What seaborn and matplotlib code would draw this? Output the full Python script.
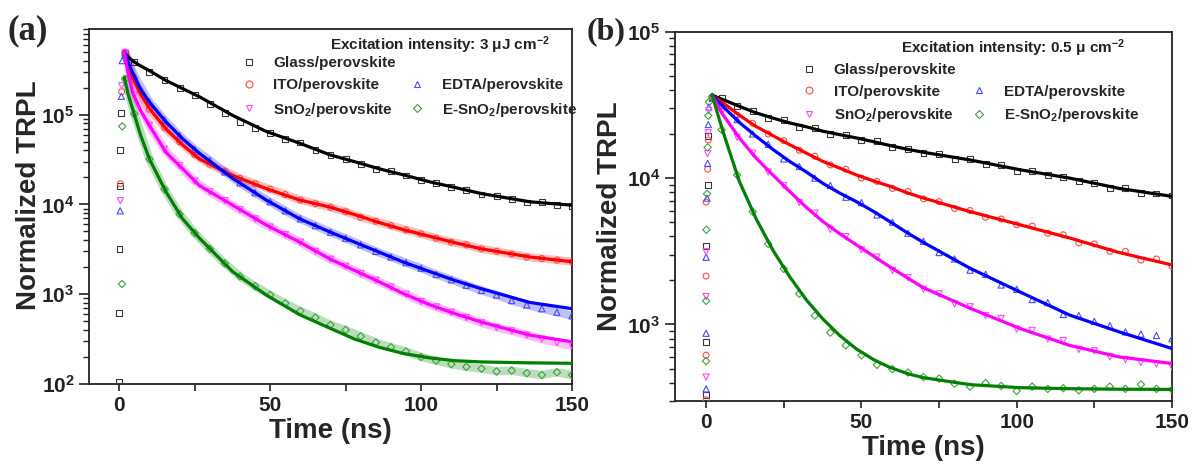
import numpy as np
import pandas as pd
import matplotlib
matplotlib.use("Agg")
import matplotlib.pyplot as plt
import seaborn as sns
from matplotlib.lines import Line2D
from matplotlib.ticker import LogLocator, FuncFormatter, MultipleLocator, NullFormatter

# ---------------- data ----------------
series = ["Glass/perovskite", "ITO/perovskite", "EDTA/perovskite",
          "SnO$_\\mathbf{2}$/perovskite", "E-SnO$_\\mathbf{2}$/perovskite"]

# panel (a): fitted curves
t_fit_a = [1.7, 3, 4.4, 7, 10, 15.5, 21, 26.6, 37.6, 48.7, 59.8, 70, 78, 86, 94, 103, 111, 120, 136, 150]
glass_fit_a = [4.79e5, 4.37e5, 3.98e5, 3.5e5, 3.09e5, 2.40e5, 1.95e5, 1.58e5, 9.8e4, 6.5e4, 4.8e4, 3.55e4, 2.99e4, 2.5e4, 2.14e4, 1.78e4, 1.55e4, 1.32e4, 1.07e4, 9.8e3]
ito_fit_a = [5.0e5, 3.47e5, 2.63e5, 1.7e5, 1.17e5, 6.9e4, 4.6e4, 3.2e4, 2.1e4, 1.5e4, 1.12e4, 9.3e3, 7.7e3, 6.3e3, 5.25e3, 4.4e3, 3.76e3, 3.2e3, 2.6e3, 2.3e3]
edta_fit_a = [5.0e5, 3.8e5, 2.95e5, 1.95e5, 1.38e5, 8.3e4, 5.4e4, 3.7e4, 1.95e4, 1.12e4, 6.9e3, 4.9e3, 3.8e3, 2.95e3, 2.29e3, 1.78e3, 1.43e3, 1.15e3, 810, 690]
sno2_fit_a = [5.0e5, 2.82e5, 1.78e5, 1.12e5, 7.6e4, 3.8e4, 2.5e4, 1.62e4, 9.8e3, 5.9e3, 3.8e3, 2.45e3, 1.84e3, 1.38e3, 1.02e3, 760, 610, 490, 350, 295]
esno2_fit_a = [2.6e5, 1.66e5, 1.17e5, 6.0e4, 3.2e4, 1.38e4, 6.9e3, 4.2e3, 1.78e3, 980, 590, 415, 316, 257, 219, 195, 182, 176, 172, 170]

# measured decay points (both panels share this time grid)
t_data = [2, 5, 10, 15, 20, 25, 30, 35, 40, 45, 50, 55, 60, 65, 70, 75, 80, 85, 90,
          95, 100, 105, 110, 115, 120, 125, 130, 135, 140, 145, 150]
glass_data_a = [4.7e5, 3.9e5, 3.0e5, 2.45e5, 2.0e5, 1.66e5, 1.32e5, 1.05e5, 8.3e4, 7.1e4, 6.3e4, 5.4e4, 4.9e4, 4.0e4, 3.55e4, 3.2e4, 2.8e4, 2.5e4, 2.35e4, 2.1e4, 1.86e4, 1.74e4, 1.55e4, 1.45e4, 1.29e4, 1.23e4, 1.15e4, 1.05e4, 1.07e4, 9.8e3, 9.6e3]
ito_data_a = [4.9e5, 2.4e5, 1.15e5, 7.2e4, 5.0e4, 3.6e4, 2.8e4, 2.35e4, 1.95e4, 1.7e4, 1.48e4, 1.29e4, 1.12e4, 1.02e4, 9.3e3, 8.3e3, 7.2e3, 6.5e3, 5.8e3, 5.2e3, 4.7e3, 4.2e3, 3.8e3, 3.55e3, 3.2e3, 3.0e3, 2.8e3, 2.6e3, 2.5e3, 2.4e3, 2.3e3]
edta_data_a = [4.9e5, 2.7e5, 1.38e5, 8.7e4, 5.8e4, 4.1e4, 3.1e4, 2.3e4, 1.74e4, 1.35e4, 1.07e4, 8.5e3, 6.9e3, 5.8e3, 4.9e3, 4.2e3, 3.55e3, 3.0e3, 2.6e3, 2.25e3, 1.95e3, 1.66e3, 1.45e3, 1.26e3, 1.1e3, 980, 850, 760, 690, 630, 575]
sno2_data_a = [4.9e5, 1.66e5, 7.6e4, 4.1e4, 2.7e4, 1.82e4, 1.38e4, 1.1e4, 8.7e3, 6.9e3, 5.6e3, 4.6e3, 3.8e3, 3.0e3, 2.45e3, 2.05e3, 1.7e3, 1.43e3, 1.2e3, 1.0e3, 830, 720, 630, 550, 480, 425, 390, 350, 315, 290, 265]
esno2_data_a = [2.5e5, 1.02e5, 3.2e4, 1.48e4, 7.8e3, 4.8e3, 3.2e3, 2.2e3, 1.58e3, 1.23e3, 980, 790, 650, 550, 455, 400, 340, 290, 257, 230, 200, 182, 166, 155, 148, 138, 141, 132, 126, 135, 126]

# rising-edge points, panel (a)
rise_t_glass_a = [0.0, 0.0, 0.1, 0.2, 0.4, 0.6]
rise_glass_a = [105, 620, 3.2e3, 1.6e4, 4.0e4, 1.05e5]
rise_t_ito_a = [0.4, 0.8]
rise_ito_a = [1.7e4, 1.8e5]
rise_t_edta_a = [0.3, 0.7, 1.0]
rise_edta_a = [8.5e3, 1.6e5, 4.0e5]
rise_t_sno2_a = [0.4, 0.8]
rise_sno2_a = [1.1e4, 2.1e5]
rise_t_esno2_a = [0.9, 1.0]
rise_esno2_a = [1.3e3, 7.4e4]

# panel (b): fitted curves
t_fit_b = [1.9, 5.4, 10.7, 16.1, 21.5, 26.9, 32.3, 37.6, 43, 48.4, 54, 59.1, 65, 70, 85, 101, 117, 133, 150]
glass_fit_b = [3.68e4, 3.44e4, 3.09e4, 2.79e4, 2.57e4, 2.38e4, 2.24e4, 2.09e4, 1.98e4, 1.88e4, 1.77e4, 1.67e4, 1.57e4, 1.5e4, 1.33e4, 1.14e4, 1.0e4, 8.5e3, 7.5e3]
ito_fit_b = [3.68e4, 3.27e4, 2.69e4, 2.25e4, 1.95e4, 1.69e4, 1.48e4, 1.3e4, 1.17e4, 1.05e4, 9.55e3, 8.8e3, 7.9e3, 7.3e3, 5.9e3, 4.8e3, 3.9e3, 3.1e3, 2.55e3]
edta_fit_b = [3.68e4, 3.09e4, 2.4e4, 1.93e4, 1.57e4, 1.3e4, 1.1e4, 9.2e3, 7.9e3, 6.9e3, 5.9e3, 5.05e3, 4.2e3, 3.63e3, 2.42e3, 1.67e3, 1.16e3, 890, 685]
sno2_fit_b = [3.68e4, 2.72e4, 1.88e4, 1.37e4, 1.05e4, 8.1e3, 6.3e3, 5.05e3, 4.17e3, 3.5e3, 2.92e3, 2.48e3, 2.07e3, 1.78e3, 1.29e3, 940, 720, 600, 541]
esno2_fit_b = [3.7e4, 2.09e4, 9.5e3, 5.28e3, 3.22e3, 2.12e3, 1.47e3, 1.09e3, 841, 680, 574, 510, 460, 433, 388, 370, 364, 361, 360]

glass_data_b = [3.5e4, 3.51e4, 3.09e4, 2.88e4, 2.57e4, 2.48e4, 2.24e4, 2.19e4, 2.0e4, 1.97e4, 1.82e4, 1.78e4, 1.62e4, 1.58e4, 1.48e4, 1.46e4, 1.35e4, 1.35e4, 1.24e4, 1.22e4, 1.12e4, 1.12e4, 1.05e4, 1.02e4, 9.5e3, 9.3e3, 8.6e3, 8.5e3, 7.9e3, 7.85e3, 7.6e3]
ito_data_b = [3.5e4, 3.31e4, 2.69e4, 2.37e4, 2.0e4, 1.8e4, 1.55e4, 1.41e4, 1.23e4, 1.15e4, 1.0e4, 9.5e3, 8.5e3, 8.1e3, 7.2e3, 6.9e3, 6.2e3, 6.0e3, 5.4e3, 5.25e3, 4.8e3, 4.7e3, 4.2e3, 4.1e3, 3.6e3, 3.55e3, 3.16e3, 3.16e3, 2.75e3, 2.8e3, 2.5e3]
edta_data_b = [3.55e4, 3.16e4, 2.51e4, 2.0e4, 1.7e4, 1.35e4, 1.2e4, 1.0e4, 8.9e3, 7.4e3, 6.8e3, 5.6e3, 5.0e3, 4.2e3, 3.7e3, 3.1e3, 2.8e3, 2.35e3, 2.2e3, 1.86e3, 1.74e3, 1.48e3, 1.41e3, 1.17e3, 1.15e3, 1.05e3, 980, 890, 860, 840, 800]
sno2_data_b = [3.5e4, 2.82e4, 1.9e4, 1.48e4, 1.1e4, 8.9e3, 6.8e3, 5.75e3, 4.47e3, 3.98e3, 3.24e3, 2.88e3, 2.34e3, 2.09e3, 1.74e3, 1.62e3, 1.38e3, 1.32e3, 1.15e3, 1.1e3, 930, 910, 795, 775, 675, 660, 600, 575, 550, 537, 513]
esno2_data_b = [3.6e4, 2.14e4, 1.05e4, 5.9e3, 3.55e3, 2.4e3, 1.62e3, 1.15e3, 880, 720, 615, 530, 495, 470, 437, 427, 394, 376, 398, 380, 351, 376, 363, 367, 355, 363, 376, 363, 389, 363, 359]

rise_t_glass_b = [0, 0, 0, 0.5, 0.7]
rise_glass_b = [331, 757, 3.44e3, 9.0e3, 1.93e4]
rise_t_ito_b = [0, 0, 0, 0, 0.5, 0.7]
rise_ito_b = [306, 617, 2.14e3, 6.85e3, 1.15e4, 1.82e4]
rise_t_edta_b = [0, 0, 0, 0.3, 0.5, 0.7, 0.9]
rise_edta_b = [363, 871, 2.88e3, 7.3e3, 1.26e4, 2.32e4, 3.06e4]
rise_t_sno2_b = [0, 0, 0, 0.5, 0.7, 0.9]
rise_sno2_b = [437, 1.55e3, 3.14e3, 1.47e4, 2.04e4, 2.9e4]
rise_t_esno2_b = [0, 0, 0.1, 0.3, 0.5, 0.7, 0.9]
rise_esno2_b = [562, 1.45e3, 4.43e3, 7.8e3, 1.62e4, 2.67e4, 3.3e4]

# ---------------- styling ----------------
sns.set_style("ticks")
plt.rcParams["font.family"] = ["Liberation Sans", "DejaVu Sans"]
plt.rcParams["font.weight"] = "bold"
plt.rcParams["axes.labelweight"] = "bold"
plt.rcParams["mathtext.fontset"] = "custom"
plt.rcParams["mathtext.rm"] = "Liberation Sans:bold"
plt.rcParams["mathtext.bf"] = "Liberation Sans:bold"
plt.rcParams["mathtext.it"] = "Liberation Sans:bold:italic"

line_colors = ["#000000", "#ff0000", "#0000ff", "#ff00ff", "#008000"]
mark_colors = ["#3a3a3a", "#ff4a4a", "#4a4aff", "#ff4aff", "#40a040"]
markers = ["s", "o", "^", "v", "D"]
msizes = [18, 18, 20, 20, 14]

fig = plt.figure(figsize=(11.92, 4.66), dpi=100)
ax_a = fig.add_axes([0.0747, 0.1760, 0.4052, 0.7618])
ax_b = fig.add_axes([0.5663, 0.1395, 0.4169, 0.7925])


def draw(ax, t_fit, fits, datas, rises, band, ylim, title, title_x):
    ax.set_yscale("log")
    for i in range(5):
        if band[i]:
            sns.lineplot(x=t_data, y=datas[i], ax=ax, color=mark_colors[i], lw=6,
                         alpha=0.35, estimator=None, sort=False, zorder=2)
        sns.scatterplot(x=list(rises[i][0]) + t_data, y=list(rises[i][1]) + datas[i], ax=ax,
                        marker=markers[i], s=msizes[i], facecolor="none",
                        edgecolor=mark_colors[i], color=mark_colors[i],
                        linewidth=0.8, zorder=3, legend=False)
    for i in range(5):
        sns.lineplot(x=t_fit, y=fits[i], ax=ax, color=line_colors[i], lw=2.3,
                     estimator=None, sort=False, zorder=5)
    ax.set_xlim(-10, 150)
    ax.set_ylim(*ylim)
    ax.xaxis.set_major_locator(MultipleLocator(50))
    ax.xaxis.set_minor_locator(MultipleLocator(25))
    ax.yaxis.set_major_locator(LogLocator(base=10, numticks=10))
    ax.yaxis.set_minor_locator(LogLocator(base=10, subs=[2, 3, 4, 5, 6, 7, 8, 9], numticks=20))
    ax.yaxis.set_minor_formatter(NullFormatter())
    ax.yaxis.set_major_formatter(FuncFormatter(
        lambda v, p: r"$\mathbf{10^{%d}}$" % int(round(np.log10(v)))))
    ax.tick_params(axis="x", which="both", direction="out", length=5, width=1.2,
                   labelsize=15, colors="#222222")
    ax.tick_params(axis="y", which="major", direction="out", length=7, width=1.2,
                   labelsize=15, colors="#222222")
    ax.tick_params(axis="y", which="minor", direction="out", length=4, width=1.0,
                   colors="#222222")
    for s in ax.spines.values():
        s.set_linewidth(1.3)
        s.set_color("#222222")
    ax.set_xlabel("Time (ns)", fontsize=20, fontweight="bold", labelpad=2)
    ax.set_ylabel("Normalized TRPL", fontsize=20, fontweight="bold", labelpad=3)
    ax.text(title_x, 0.955, title, transform=ax.transAxes, ha="right", va="center",
            fontsize=11, fontweight="bold", color="#222222")
    handles = []
    order = [0, 1, 3, None, 2, 4]
    for j in order:
        if j is None:
            handles.append(Line2D([], [], linestyle="none", label=" "))
        else:
            handles.append(Line2D([], [], linestyle="none", marker=markers[j],
                                  markersize=5 if markers[j] != "D" else 4,
                                  markerfacecolor="none", markeredgecolor=mark_colors[j],
                                  markeredgewidth=0.8, label=series[j]))
    return handles


h = draw(ax_a, t_fit_a,
         [glass_fit_a, ito_fit_a, edta_fit_a, sno2_fit_a, esno2_fit_a],
         [glass_data_a, ito_data_a, edta_data_a, sno2_data_a, esno2_data_a],
         [(rise_t_glass_a, rise_glass_a), (rise_t_ito_a, rise_ito_a),
          (rise_t_edta_a, rise_edta_a), (rise_t_sno2_a, rise_sno2_a),
          (rise_t_esno2_a, rise_esno2_a)],
         [False, True, True, True, True], (100, 9e5),
         "Excitation intensity: 3 μJ cm$^{\\mathbf{-2}}$", 0.954)
ax_a.legend(handles=h, ncol=2, loc="upper left", bbox_to_anchor=(0.315, 0.924),
            frameon=False, fontsize=11, handlelength=1.0, handletextpad=1.1,
            columnspacing=0.9, labelspacing=0.55, borderpad=0, borderaxespad=0)
ax_a.yaxis.set_label_coords(-0.097, 0.532)

h = draw(ax_b, t_fit_b,
         [glass_fit_b, ito_fit_b, edta_fit_b, sno2_fit_b, esno2_fit_b],
         [glass_data_b, ito_data_b, edta_data_b, sno2_data_b, esno2_data_b],
         [(rise_t_glass_b, rise_glass_b), (rise_t_ito_b, rise_ito_b),
          (rise_t_edta_b, rise_edta_b), (rise_t_sno2_b, rise_sno2_b),
          (rise_t_esno2_b, rise_esno2_b)],
         [False] * 5, (300, 1e5),
         "Excitation intensity: 0.5 μ cm$^{\\mathbf{-2}}$", 0.905)
ax_b.legend(handles=h, ncol=2, loc="upper left", bbox_to_anchor=(0.255, 0.915),
            frameon=False, fontsize=11, handlelength=1.0, handletextpad=1.1,
            columnspacing=1.0, labelspacing=0.5, borderpad=0, borderaxespad=0)

fig.text(0.006, 0.933, "(a)", fontsize=25, family="Liberation Serif",
         fontweight="bold", va="center", ha="left")
fig.text(0.4925, 0.933, "(b)", fontsize=23, family="Liberation Serif",
         fontweight="bold", va="center", ha="left")

fig.savefig("out.png", dpi=100)
